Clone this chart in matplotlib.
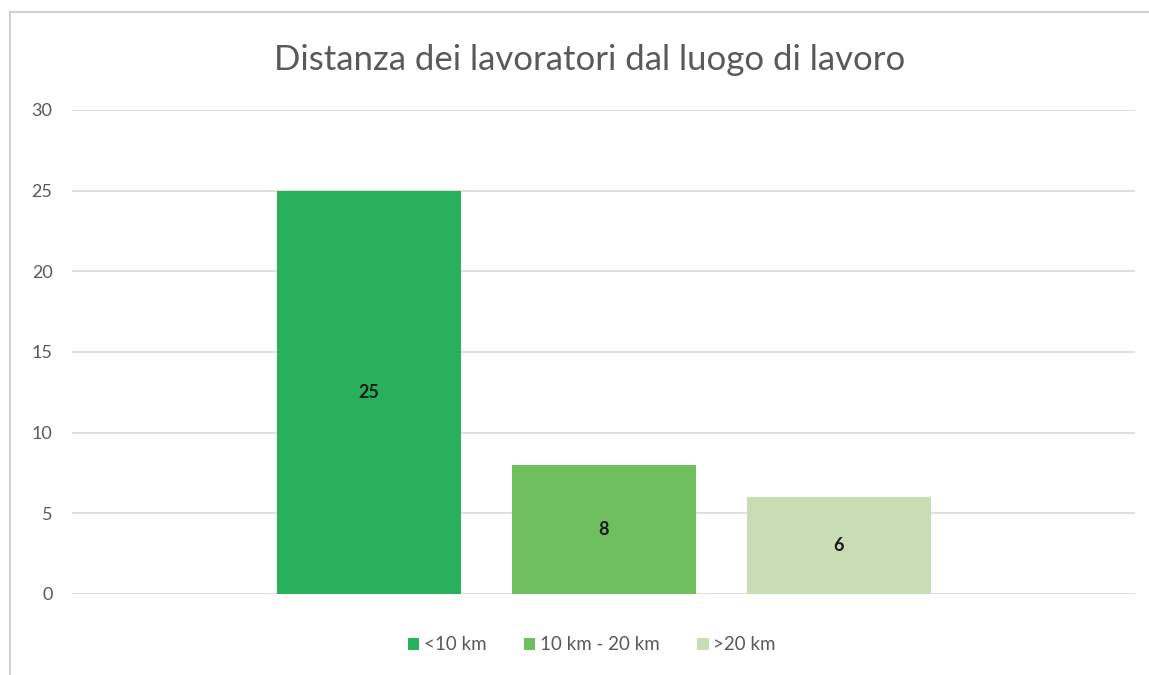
import matplotlib.pyplot as plt
from matplotlib.patches import Rectangle
from matplotlib.lines import Line2D

plt.rcParams['font.family'] = ['Lato', 'DejaVu Sans']

series = ['<10 km', '10 km - 20 km', '>20 km']
values = [25, 8, 6]
colors = ['#29B05C', '#70BF5F', '#C8DDB4']
yticks = [0, 5, 10, 15, 20, 25, 30]
title = 'Distanza dei lavoratori dal luogo di lavoro'

W, H = 1149, 675
fig = plt.figure(figsize=(W / 100, H / 100), dpi=100)
fig.patch.set_facecolor('white')

# outer frame (left and top visible)
fig.add_artist(Line2D([10 / W, 10 / W], [0, 1 - 12 / H], color='#D0D0D0', lw=1.5))
fig.add_artist(Line2D([10 / W, 1], [1 - 12 / H, 1 - 12 / H], color='#D0D0D0', lw=1.5))

ax = fig.add_axes([72 / W, 1 - 594 / H, (1135 - 72) / W, (594 - 110) / H])
ax.set_xlim(-0.5, 0.5)
ax.set_ylim(0, 30)

bar_w = 184 / 1063
offsets = [-235 / 1063, 0, 235 / 1063]
handles = []
for off, v, c, s in zip(offsets, values, colors, series):
    b = ax.bar(off, v, width=bar_w, color=c, label=s, zorder=3)
    handles.append(b)
    ax.text(off, v / 2, str(v), ha='center', va='center', fontsize=13,
            color='#1a1a1a', fontweight='bold', zorder=4)

ax.set_yticks(yticks)
ax.set_yticklabels([str(t) for t in yticks], fontsize=13, color='#595959')
ax.tick_params(axis='y', length=0, pad=14)
ax.set_xticks([])
for sp in ax.spines.values():
    sp.set_visible(False)
ax.yaxis.grid(True, color='#D9D9D9', lw=1.2, zorder=0)
ax.set_axisbelow(True)

fig.text(590 / W, 1 - 60 / H, title, ha='center', va='center', fontsize=25,
         color='#595959')

fig.legend(handles=handles, labels=series, loc='center', bbox_to_anchor=(592 / W, 1 - 645 / H),
           ncol=3, frameon=False, fontsize=13.5, handlelength=0.6, handleheight=0.6,
           handletextpad=0.25, columnspacing=2.0, labelcolor='#595959')

fig.savefig('out.png', dpi=100)
